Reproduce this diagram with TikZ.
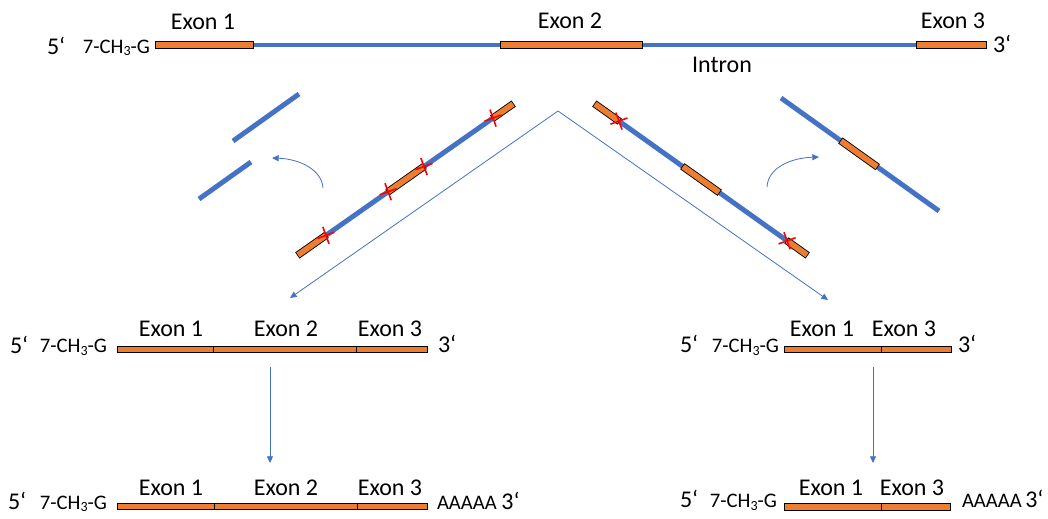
\documentclass[tikz,border=0pt]{standalone}
\usepackage{fontspec}
\setmainfont{Carlito}
\usetikzlibrary{calc,arrows.meta}
\definecolor{exorange}{HTML}{ED7D31}
\definecolor{inblue}{HTML}{4472C4}
\newcommand{\chg}{7-CH\raisebox{-0.28ex}{\fontsize{10.5}{10}\selectfont 3}-G}
\tikzset{
  big/.style={font=\fontsize{18}{21}\selectfont, inner sep=0pt, outer sep=0pt},
  small/.style={font=\fontsize{15.5}{18}\selectfont, inner sep=0pt, outer sep=0pt},
  exonbox/.style={draw=black, line width=0.5pt, fill=exorange},
  introntop/.style={draw=inblue, line width=3pt},
  strand/.style={draw=inblue, line width=3.7pt},
  exonout/.style={draw=black, line width=5.6pt, shorten <=-0.6pt, shorten >=-0.6pt},
  exonin/.style={draw=exorange, line width=4.3pt},
  thinarrow/.style={draw=inblue, line width=0.6pt, -{Triangle[length=5pt,width=4.5pt]}},
  xmk/.pic={\draw[red, line width=1.2pt] (-8.5,3.1)--(8.5,-3.1) (-3.1,-8.5)--(3.1,8.5);}
}
\begin{document}
\begin{tikzpicture}[x=0.75pt,y=-0.75pt]
\useasboundingbox (0,0) rectangle (1048,518);

% ---------- top pre-mRNA ----------
\draw[introntop] (253,45) -- (916,45);
\draw[exonbox] (155,41.7) rectangle (253,48.3);
\draw[exonbox] (500,41.7) rectangle (642,48.3);
\draw[exonbox] (916,41.7) rectangle (986,48.3);
\node[big, anchor=base west] (t5) at (47,54) {5‘};
\node[small, anchor=base east] (tcg) at (150,53) {\chg};
\node[big, anchor=base] (te1) at (203,29.5) {Exon 1};
\node[big, anchor=base] (te2) at (570,28.5) {Exon 2};
\node[big, anchor=base] (te3) at (953,28.5) {Exon 3};
\node[big, anchor=base] (tin) at (722,72.7) {Intron};
\node[big, anchor=base west] (t3) at (993,52.7) {3‘};

% ---------- left strand (exon 2 included) ----------
\coordinate (A) at (298,255);
\coordinate (B) at (513,104);
\coordinate (c1) at ($(A)!0.13!(B)$);
\coordinate (c2) at ($(A)!0.419!(B)$);
\coordinate (c3) at ($(A)!0.586!(B)$);
\coordinate (c4) at ($(A)!0.907!(B)$);
\draw[strand] (c1) -- (c4);
\draw[exonout] (A) -- (c1); \draw[exonin] (A) -- (c1);
\draw[exonout] (c2) -- (c3); \draw[exonin] (c2) -- (c3);
\draw[exonout] (c4) -- (B); \draw[exonin] (c4) -- (B);
\pic at (c1) {xmk}; \pic at (c2) {xmk}; \pic at (c3) {xmk}; \pic at (c4) {xmk};

% removed introns (left)
\coordinate (g1a) at (233,141); \coordinate (g1b) at (299,94);
\coordinate (g2a) at (199,199); \coordinate (g2b) at (251,162);
\draw[strand] (g1a) -- (g1b);
\draw[strand] (g2a) -- (g2b);
\coordinate (la0) at (323,188); \coordinate (la1) at (272,158);
\draw[thinarrow] (la0) .. controls (322,170) and (300,159) .. (la1);

% ---------- right strand (exon 2 skipped) ----------
\coordinate (C) at (595,104);
\coordinate (D) at (807,255);
\coordinate (r1) at ($(C)!0.113!(D)$);
\coordinate (rm1) at ($(C)!0.415!(D)$);
\coordinate (rm2) at ($(C)!0.585!(D)$);
\coordinate (r2) at ($(C)!0.906!(D)$);
\draw[strand] (r1) -- (r2);
\draw[exonout] (C) -- (r1); \draw[exonin] (C) -- (r1);
\draw[exonout] (rm1) -- (rm2); \draw[exonin] (rm1) -- (rm2);
\draw[exonout] (r2) -- (D); \draw[exonin] (r2) -- (D);
\pic at (r1) {xmk}; \pic at (r2) {xmk};

% removed intron-exon2-intron (right)
\coordinate (E) at (781,98); \coordinate (F) at (939,211);
\coordinate (e1) at ($(E)!0.38!(F)$); \coordinate (e2) at ($(E)!0.608!(F)$);
\draw[strand] (E) -- (F);
\draw[exonout] (e1) -- (e2); \draw[exonin] (e1) -- (e2);
\coordinate (ra0) at (767,187); \coordinate (ra1) at (819,157);
\draw[thinarrow] (ra0) .. controls (768,168) and (790,158) .. (ra1);

% ---------- V arrows ----------
\coordinate (apex) at (558,111);
\coordinate (vl) at (290,298);
\coordinate (vr) at (828,300);
\draw[thinarrow] (apex) -- (vl);
\draw[thinarrow] (apex) -- (vr);

% ---------- row 2 left ----------
\draw[exonbox] (117,346) rectangle (213,352);
\draw[exonbox] (213,346) rectangle (356,352);
\draw[exonbox] (356,346) rectangle (427,352);
\node[big, anchor=base west] (l5) at (10,353) {5‘};
\node[small, anchor=base east] (lcg) at (107,352.7) {\chg};
\node[big, anchor=base] (le1) at (171,336.7) {Exon 1};
\node[big, anchor=base] (le2) at (286,336.7) {Exon 2};
\node[big, anchor=base] (le3) at (390,336.7) {Exon 3};
\node[big, anchor=base west] (l3) at (438,352.7) {3‘};

% ---------- row 2 right ----------
\draw[exonbox] (784,346) rectangle (881,352);
\draw[exonbox] (881,346) rectangle (951,352);
\node[big, anchor=base west] (m5) at (680,352.7) {5‘};
\node[small, anchor=base east] (mcg) at (779,352.7) {\chg};
\node[big, anchor=base] (me1) at (822,336.7) {Exon 1};
\node[big, anchor=base] (me3) at (904,336.7) {Exon 3};
\node[big, anchor=base west] (m3) at (958,352.7) {3‘};

% ---------- down arrows ----------
\coordinate (dl0) at (270,367); \coordinate (dl1) at (270,463);
\coordinate (dr0) at (873,367); \coordinate (dr1) at (873,463);
\draw[thinarrow] (dl0) -- (dl1);
\draw[thinarrow] (dr0) -- (dr1);

% ---------- row 3 left ----------
\draw[exonbox] (117,503.5) rectangle (214,509.5);
\draw[exonbox] (214,503.5) rectangle (357,509.5);
\draw[exonbox] (357,503.5) rectangle (427,509.5);
\node[big, anchor=base west] (b5) at (8,509.5) {5‘};
\node[small, anchor=base east] (bcg) at (107,509) {\chg};
\node[big, anchor=base] (be1) at (171,495) {Exon 1};
\node[big, anchor=base] (be2) at (286,495) {Exon 2};
\node[big, anchor=base] (be3) at (390,495) {Exon 3};
\node[small, anchor=base west] (bpa) at (437,509) {AAAAA \fontsize{18}{21}\selectfont 3‘};

% ---------- row 3 right ----------
\draw[exonbox] (784,503.5) rectangle (881,510);
\draw[exonbox] (881,503.5) rectangle (950,510);
\node[big, anchor=base west] (n5) at (680,507.5) {5‘};
\node[small, anchor=base east] (ncg) at (777,507.5) {\chg};
\node[big, anchor=base] (ne1) at (831,495) {Exon 1};
\node[big, anchor=base] (ne3) at (912,495) {Exon 3};
\node[small, anchor=base west] (npa) at (962,507.5) {AAAAA\,\fontsize{18}{21}\selectfont 3‘};
\end{tikzpicture}
\end{document}
